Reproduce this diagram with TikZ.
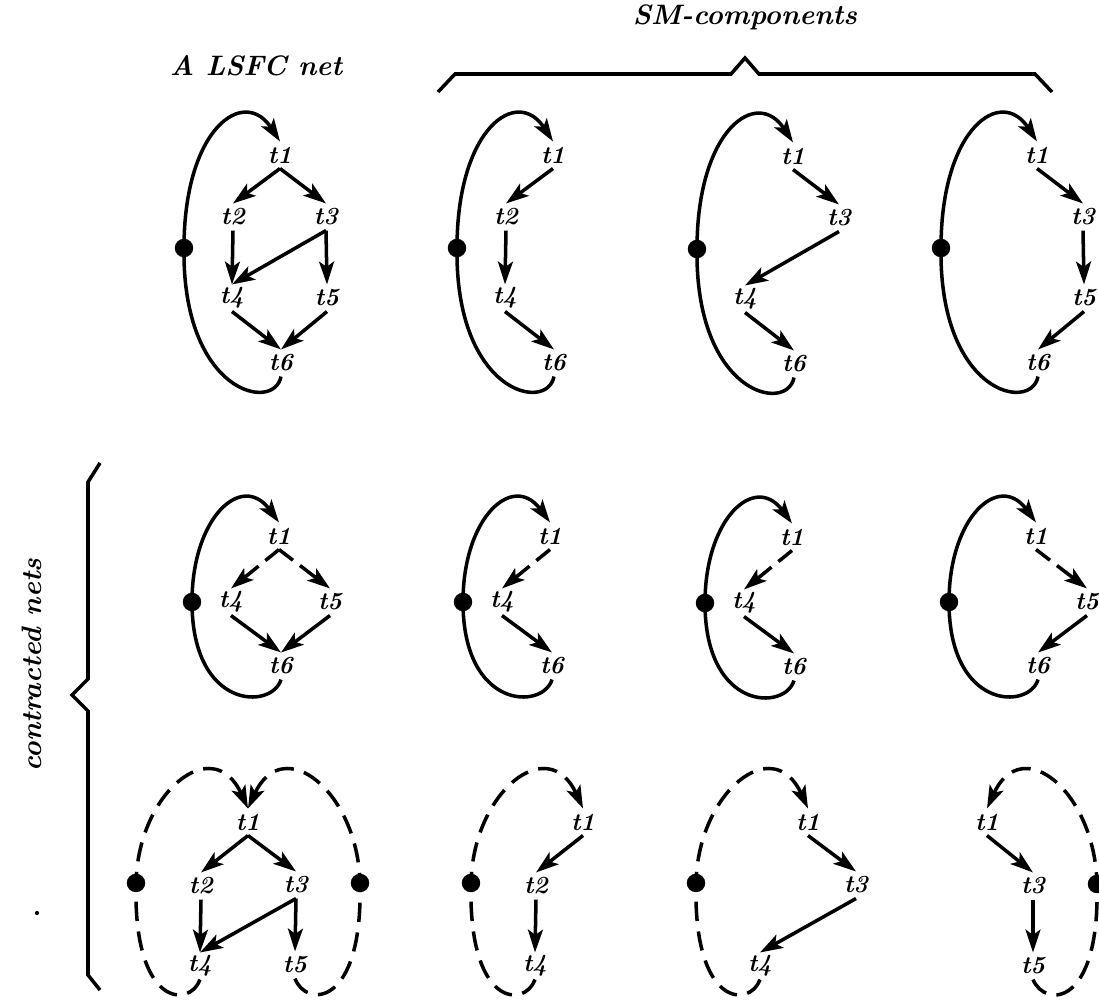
\documentclass[tikz,border=0pt]{standalone}
\usepackage{tikz}
\usetikzlibrary{arrows.meta}

\begin{document}
\begin{tikzpicture}[x=0.02cm,y=-0.02cm,
  tr/.style={font=\fontsize{14}{16}\selectfont\bfseries\itshape,
    inner sep=0pt,minimum height=15pt},
  place/.style={circle,fill=black,inner sep=0pt,minimum size=10.5pt},
  title/.style={font=\fontsize{16}{19}\selectfont\bfseries\itshape},
  arr/.style={->,>={Stealth[length=13pt,width=8.5pt,inset=3pt]},line width=2pt},
  darr/.style={arr,dash pattern=on 10pt off 5pt on 60pt off 1pt},
  darc/.style={arr,dash pattern=on 11pt off 6pt},
  brace/.style={line width=2pt,line join=miter}
]
  \fill[white] (0,0) rectangle (1099,1001);
  \useasboundingbox (0,0) rectangle (1099,1001);

  % titles and braces
  \node[title] (lsfc) at (256,66) {A LSFC net};
  \node[title] (smc)  at (745,17) {SM-components};
  \node[title,rotate=90] (cn) at (32,665) {contracted nets};
  \draw[brace] (438,92) -- (455,74) -- (731,74) -- (745,58) -- (759,74)
    -- (1035,74) -- (1052,92);
  \draw[brace] (100,463) -- (88,482) -- (88,679) -- (72,695) -- (88,711)
    -- (88,975) -- (100,990);
  \fill (37,913) circle (1.2pt);

  % row 1: the net and its SM-components
  \begin{scope}[shift={(184,248)},name prefix=a1-]
    \node[place] (p) at (0,0) {};
    \node[tr] (t1) at (96,-93) {t1};
    \node[tr] (t2) at (49,-31) {t2};
    \node[tr] (t3) at (142,-31) {t3};
    \node[tr] (t4) at (48,50) {t4};
    \node[tr] (t5) at (143,50) {t5};
    \node[tr] (t6) at (97,115) {t6};
    \draw[arr] (t1.south) -- (t2.north);
    \draw[arr] (t1.south) -- (t3.north);
    \draw[arr] (t2.south) -- (t4.north);
    \draw[arr] (t3.south) -- (t4.north);
    \draw[arr] (t3.south) -- (t5.north);
    \draw[arr] (t4.south) -- (t6.north);
    \draw[arr] (t5.south) -- (t6.north);
    \draw[arr] (t6.south) .. controls (90,165) and (-2,145) .. (p.center)
      .. controls (0,-120) and (60,-162) .. (t1.north);
  \end{scope}
  \begin{scope}[shift={(457,248)},name prefix=a2-]
    \node[place] (p) at (0,0) {};
    \node[tr] (t1) at (96,-93) {t1};
    \node[tr] (t2) at (49,-31) {t2};
    \node[tr] (t4) at (48,50) {t4};
    \node[tr] (t6) at (97,115) {t6};
    \draw[arr] (t1.south) -- (t2.north);
    \draw[arr] (t2.south) -- (t4.north);
    \draw[arr] (t4.south) -- (t6.north);
    \draw[arr] (t6.south) .. controls (90,165) and (-2,145) .. (p.center)
      .. controls (0,-120) and (60,-162) .. (t1.north);
  \end{scope}
  \begin{scope}[shift={(697,249)},name prefix=a3-]
    \node[place] (p) at (0,0) {};
    \node[tr] (t1) at (96,-93) {t1};
    \node[tr] (t3) at (142,-31) {t3};
    \node[tr] (t4) at (48,50) {t4};
    \node[tr] (t6) at (97,115) {t6};
    \draw[arr] (t1.south) -- (t3.north);
    \draw[arr] (t3.south) -- (t4.north);
    \draw[arr] (t4.south) -- (t6.north);
    \draw[arr] (t6.south) .. controls (90,165) and (-2,145) .. (p.center)
      .. controls (0,-120) and (60,-162) .. (t1.north);
  \end{scope}
  \begin{scope}[shift={(941,248)},name prefix=a4-]
    \node[place] (p) at (0,0) {};
    \node[tr] (t1) at (96,-93) {t1};
    \node[tr] (t3) at (142,-31) {t3};
    \node[tr] (t5) at (143,50) {t5};
    \node[tr] (t6) at (97,115) {t6};
    \draw[arr] (t1.south) -- (t3.north);
    \draw[arr] (t3.south) -- (t5.north);
    \draw[arr] (t5.south) -- (t6.north);
    \draw[arr] (t6.south) .. controls (90,165) and (-2,145) .. (p.center)
      .. controls (0,-120) and (60,-162) .. (t1.north);
  \end{scope}

  % row 2: contracted nets
  \begin{scope}[shift={(192,602)},name prefix=b1-]
    \node[place] (p) at (0,0) {};
    \node[tr] (t1) at (87,-66) {t1};
    \node[tr] (t4) at (39,0) {t4};
    \node[tr] (t5) at (138,0) {t5};
    \node[tr] (t6) at (89,64) {t6};
    \draw[darr] (t1.south) -- (t4.north);
    \draw[darr] (t1.south) -- (t5.north);
    \draw[arr] (t4.south) -- (t6.north);
    \draw[arr] (t5.south) -- (t6.north);
    \draw[arr] (t6.south) .. controls (80,108) and (0,108) .. (p.center)
      .. controls (0,-85) and (50,-130) .. (t1.north);
  \end{scope}
  \begin{scope}[shift={(463,602)},name prefix=b2-]
    \node[place] (p) at (0,0) {};
    \node[tr] (t1) at (87,-66) {t1};
    \node[tr] (t4) at (39,0) {t4};
    \node[tr] (t6) at (89,64) {t6};
    \draw[darr] (t1.south) -- (t4.north);
    \draw[arr] (t4.south) -- (t6.north);
    \draw[arr] (t6.south) .. controls (80,108) and (0,108) .. (p.center)
      .. controls (0,-85) and (50,-130) .. (t1.north);
  \end{scope}
  \begin{scope}[shift={(705,603)},name prefix=b3-]
    \node[place] (p) at (0,0) {};
    \node[tr] (t1) at (87,-66) {t1};
    \node[tr] (t4) at (39,0) {t4};
    \node[tr] (t6) at (89,64) {t6};
    \draw[darr] (t1.south) -- (t4.north);
    \draw[arr] (t4.south) -- (t6.north);
    \draw[arr] (t6.south) .. controls (80,108) and (0,108) .. (p.center)
      .. controls (0,-85) and (50,-130) .. (t1.north);
  \end{scope}
  \begin{scope}[shift={(949,602)},name prefix=b4-]
    \node[place] (p) at (0,0) {};
    \node[tr] (t1) at (87,-66) {t1};
    \node[tr] (t5) at (138,0) {t5};
    \node[tr] (t6) at (89,64) {t6};
    \draw[darr] (t1.south) -- (t5.north);
    \draw[arr] (t5.south) -- (t6.north);
    \draw[arr] (t6.south) .. controls (80,108) and (0,108) .. (p.center)
      .. controls (0,-85) and (50,-130) .. (t1.north);
  \end{scope}

  % row 3: SM-components of the contracted net
  \begin{scope}[shift={(248,822)},name prefix=c1-]
    \node[place] (pl) at (-112,61) {};
    \node[place] (pr) at (112,61) {};
    \node[tr] (t1) at (0,0) {t1};
    \node[tr] (t2) at (-47,64) {t2};
    \node[tr] (t3) at (48,63) {t3};
    \node[tr] (t4) at (-48,144) {t4};
    \node[tr] (t5) at (47,143) {t5};
    \draw[arr] (t1.south) -- (t2.north);
    \draw[arr] (t1.south) -- (t3.north);
    \draw[arr] (t2.south) -- (t4.north);
    \draw[arr] (t3.south) -- (t4.north);
    \draw[arr] (t3.south) -- (t5.north);
    \draw[darc] (t4.south) .. controls (-58,186) and (-115,186) .. (pl.center)
      .. controls (-110,-30) and (-35,-90) .. (t1.north);
    \draw[darc] (t5.south) .. controls (58,186) and (115,186) .. (pr.center)
      .. controls (110,-30) and (35,-90) .. (t1.north);
  \end{scope}
  \begin{scope}[shift={(583,822)},name prefix=c2-]
    \node[place] (pl) at (-112,61) {};
    \node[tr] (t1) at (0,0) {t1};
    \node[tr] (t2) at (-47,64) {t2};
    \node[tr] (t4) at (-48,144) {t4};
    \draw[arr] (t1.south) -- (t2.north);
    \draw[arr] (t2.south) -- (t4.north);
    \draw[darc] (t4.south) .. controls (-58,186) and (-115,186) .. (pl.center)
      .. controls (-110,-30) and (-35,-90) .. (t1.north);
  \end{scope}
  \begin{scope}[shift={(808,822)},name prefix=c3-]
    \node[place] (pl) at (-112,61) {};
    \node[tr] (t1) at (0,0) {t1};
    \node[tr] (t3) at (48,63) {t3};
    \node[tr] (t4) at (-48,144) {t4};
    \draw[arr] (t1.south) -- (t3.north);
    \draw[arr] (t3.south) -- (t4.north);
    \draw[darc] (t4.south) .. controls (-58,186) and (-115,186) .. (pl.center)
      .. controls (-110,-30) and (-35,-90) .. (t1.north);
  \end{scope}
  \begin{scope}[shift={(987,822)},name prefix=c4-]
    \node[place] (pr) at (110,62) {};
    \node[tr] (t1) at (0,0) {t1};
    \node[tr] (t3) at (46,64) {t3};
    \node[tr] (t5) at (46,144) {t5};
    \draw[arr] (t1.south) -- (t3.north);
    \draw[arr] (t3.south) -- (t5.north);
    \draw[darc] (t5.south) .. controls (58,186) and (113,186) .. (pr.center)
      .. controls (108,-30) and (35,-90) .. (t1.north);
  \end{scope}
\end{tikzpicture}
\end{document}
